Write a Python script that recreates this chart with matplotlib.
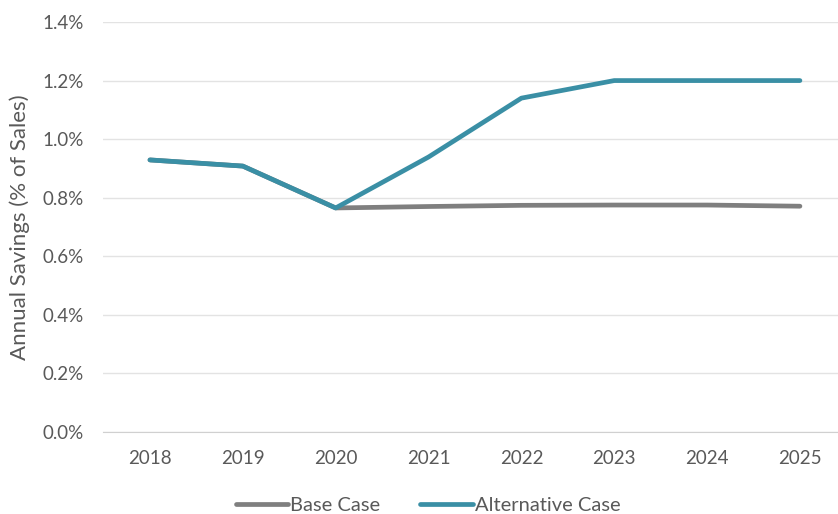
import matplotlib
matplotlib.use("Agg")
import matplotlib.pyplot as plt
from matplotlib.ticker import FuncFormatter

years = ["2018", "2019", "2020", "2021", "2022", "2023", "2024", "2025"]
base_case = [0.929, 0.908, 0.765, 0.770, 0.774, 0.775, 0.775, 0.771]
alt_case = [0.929, 0.908, 0.765, 0.939, 1.140, 1.200, 1.200, 1.200]
yticks = [0.0, 0.2, 0.4, 0.6, 0.8, 1.0, 1.2, 1.4]

plt.rcParams['font.family'] = ['Lato', 'DejaVu Sans']
txt = '#595959'

fig = plt.figure(figsize=(8.38, 5.14), dpi=100)
W, H = 838, 514
ax = fig.add_axes([103 / W, (514 - 432) / H, (838 - 103) / W, (432 - 22) / H])

x = list(range(len(years)))
ax.plot(x, base_case, color='#7f7f7f', lw=3.4, solid_capstyle='round', label='Base Case', zorder=3)
ax.plot(x, alt_case, color='#3a8fa5', lw=3.4, solid_capstyle='round', label='Alternative Case', zorder=4)

ax.set_xlim(-0.506, 7.41)
ax.set_ylim(0, 1.4)
ax.set_yticks(yticks)
ax.yaxis.set_major_formatter(FuncFormatter(lambda v, p: f"{v:.1f}%"))
ax.set_xticks(x)
ax.set_xticklabels(years)
ax.grid(axis='y', color='#e3e3e3', lw=1)
ax.set_axisbelow(True)
for s in ['top', 'right', 'left']:
    ax.spines[s].set_visible(False)
ax.spines['bottom'].set_color('#d0d0d0')
ax.spines['bottom'].set_zorder(5)
ax.tick_params(axis='both', length=0, labelsize=13.5, colors=txt)
ax.tick_params(axis='x', pad=13)
ax.tick_params(axis='y', pad=14)
ax.set_ylabel('Annual Savings (% of Sales)', fontsize=16, color=txt)
ax.yaxis.set_label_coords(-(103 - 30) / (838 - 103), 0.5)

leg = fig.legend(loc='center', bbox_to_anchor=(428 / W, 1 - 505 / H), ncol=2, frameon=False,
                 fontsize=14.5, handlelength=2.6, handletextpad=0.1, columnspacing=2.0)
for t in leg.get_texts():
    t.set_color(txt)

fig.savefig('out.png', dpi=100)
